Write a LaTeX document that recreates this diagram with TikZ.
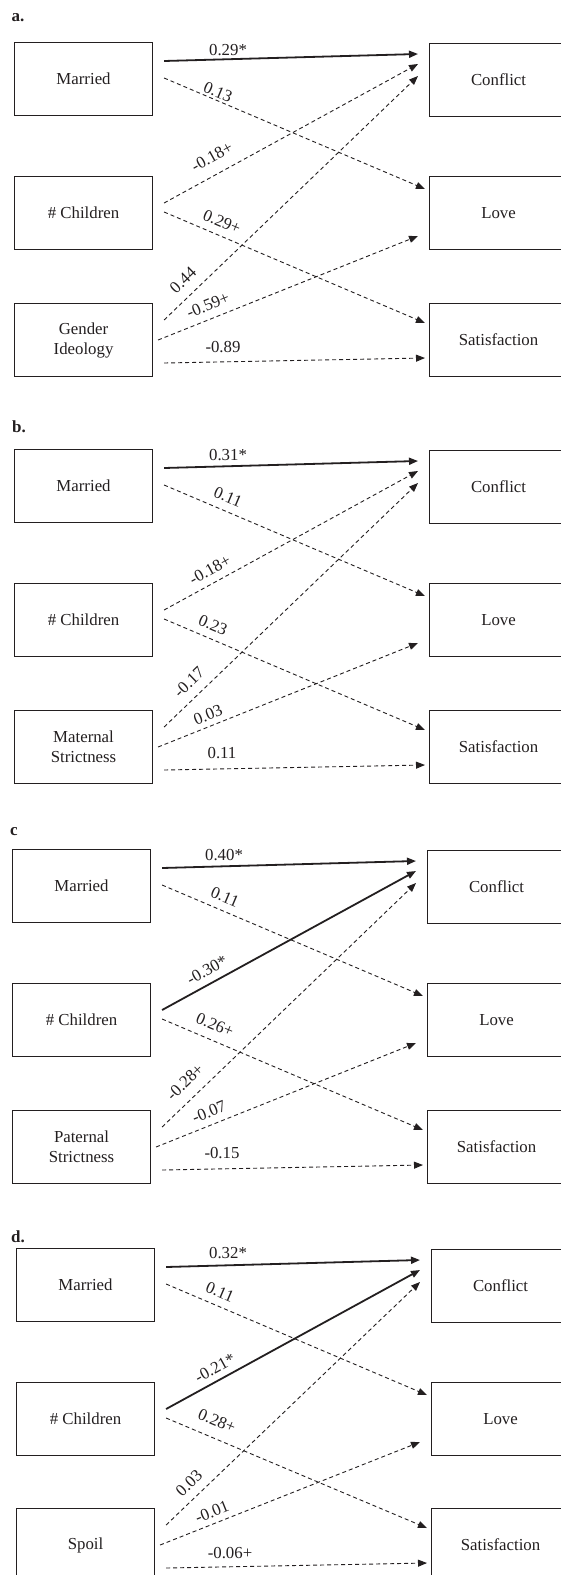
\documentclass[tikz,border=0pt]{standalone}
\usepackage{fontspec}
\setmainfont{Liberation Serif}
\usetikzlibrary{arrows.meta,calc}
\definecolor{ink}{HTML}{231F20}
\tikzset{
  box/.style={draw=ink, line width=1.1pt, minimum width=138pt, minimum height=73pt,
    anchor=north west, inner sep=0pt, align=center, text=ink,
    font=\fontsize{16.8}{20}\selectfont},
  sig/.style={draw=ink, line width=1.8pt, -{Triangle[length=9pt,width=7pt]}},
  ns/.style={draw=ink, line width=0.9pt, dash pattern=on 4pt off 3pt,
    -{Triangle[length=9pt,width=7pt]}},
  coef/.style={font=\fontsize{16.8}{20}\selectfont, inner sep=0pt, text=ink},
  tag/.style={font=\fontsize{17}{20}\selectfont\bfseries, inner sep=0pt, text=ink}
}
\newcommand\panelarrows[2]{%
  \draw[sig] ($(#1M.north east)+(11,19)$) -- ($(#1C.north west)+(-11,11)$);
  \draw[ns]  ($(#1M.north east)+(11,36)$) -- ($(#1L.north west)+(-4,13)$);
  \draw[#2]  ($(#1N.north east)+(11,27)$) -- ($(#1C.north west)+(-11,21)$);
  \draw[ns]  ($(#1N.north east)+(11,36)$) -- ($(#1S.north west)+(-4,20)$);
  \draw[ns]  ($(#1X.north east)+(11,17)$) -- ($(#1C.north west)+(-11,33)$);
  \draw[ns]  ($(#1X.north east)+(5,37)$)  -- ($(#1L.north west)+(-11,60)$);
  \draw[ns]  ($(#1X.north east)+(11,60)$) -- ($(#1S.north west)+(-4,55)$);
}
\begin{document}
\begin{tikzpicture}[x=1pt,y=-1pt]
\useasboundingbox (0,0) rectangle (561,1575);
\clip (0,0) rectangle (561,1575);
\fill[white] (0,0) rectangle (561,1575);

% ---------------- panel a
\node[tag] (ta) at (18,18) {a.};
\begin{scope}[shift={(14,42)}]
  \node[box] (aM) at (0,0) {Married};
  \node[box] (aN) at (0,134) {\# Children};
  \node[box] (aX) at (0,261) {Gender\\Ideology};
  \node[box] (aC) at (415,1) {Conflict};
  \node[box] (aL) at (415,134) {Love};
  \node[box] (aS) at (415,261) {Satisfaction};
  \panelarrows{a}{ns}
  \node[coef] (a1) at (214,8) {0.29*};
  \node[coef, rotate=-23] (a2) at (204,50) {0.13};
  \node[coef, rotate=29] (a3) at (198,115) {-0.18+};
  \node[coef, rotate=-23] (a4) at (208,180) {0.29+};
  \node[coef, rotate=44] (a5) at (169,238) {0.44};
  \node[coef, rotate=22] (a6) at (194,263) {-0.59+};
  \node[coef] (a7) at (209,305) {-0.89};
\end{scope}

% ---------------- panel b
\node[tag] (tb) at (19,427) {b.};
\begin{scope}[shift={(14,449)}]
  \node[box] (bM) at (0,0) {Married};
  \node[box] (bN) at (0,134) {\# Children};
  \node[box] (bX) at (0,261) {Maternal\\Strictness};
  \node[box] (bC) at (415,1) {Conflict};
  \node[box] (bL) at (415,134) {Love};
  \node[box] (bS) at (415,261) {Satisfaction};
  \panelarrows{b}{ns}
  \node[coef] (b1) at (214,6) {0.31*};
  \node[coef, rotate=-23] (b2) at (214,48) {0.11};
  \node[coef, rotate=29] (b3) at (196,121) {-0.18+};
  \node[coef, rotate=-23] (b4) at (199,176) {0.23};
  \node[coef, rotate=44] (b5) at (175,233) {-0.17};
  \node[coef, rotate=22] (b6) at (194,266) {0.03};
  \node[coef] (b7) at (208,304) {0.11};
\end{scope}

% ---------------- panel c
\node[tag] (tc) at (14,832) {c};
\begin{scope}[shift={(12,849)}]
  \node[box] (cM) at (0,0) {Married};
  \node[box] (cN) at (0,134) {\# Children};
  \node[box] (cX) at (0,261) {Paternal\\Strictness};
  \node[box] (cC) at (415,1) {Conflict};
  \node[box] (cL) at (415,134) {Love};
  \node[box] (cS) at (415,261) {Satisfaction};
  \panelarrows{c}{sig}
  \node[coef] (c1) at (212,6) {0.40*};
  \node[coef, rotate=-23] (c2) at (213,48) {0.11};
  \node[coef, rotate=29] (c3) at (195,121) {-0.30*};
  \node[coef, rotate=-23] (c4) at (203,176) {0.26+};
  \node[coef, rotate=44] (c5) at (173,233) {-0.28+};
  \node[coef, rotate=22] (c6) at (197,263) {-0.07};
  \node[coef] (c7) at (210,304) {-0.15};
\end{scope}

% ---------------- panel d
\node[tag] (td) at (18,1237) {d.};
\begin{scope}[shift={(16,1248)}]
  \node[box] (dM) at (0,0) {Married};
  \node[box] (dN) at (0,134) {\# Children};
  \node[box] (dX) at (0,260) {Spoil};
  \node[box] (dC) at (415,1) {Conflict};
  \node[box] (dL) at (415,134) {Love};
  \node[box] (dS) at (415,260) {Satisfaction};
  \panelarrows{d}{sig}
  \node[coef] (d1) at (212,5) {0.32*};
  \node[coef, rotate=-23] (d2) at (204,44) {0.11};
  \node[coef, rotate=29] (d3) at (199,120) {-0.21*};
  \node[coef, rotate=-23] (d4) at (201,173) {0.28+};
  \node[coef, rotate=44] (d5) at (173,235) {0.03};
  \node[coef, rotate=22] (d6) at (196,264) {-0.01};
  \node[coef] (d7) at (214,305) {-0.06+};
\end{scope}
\end{tikzpicture}
\end{document}
